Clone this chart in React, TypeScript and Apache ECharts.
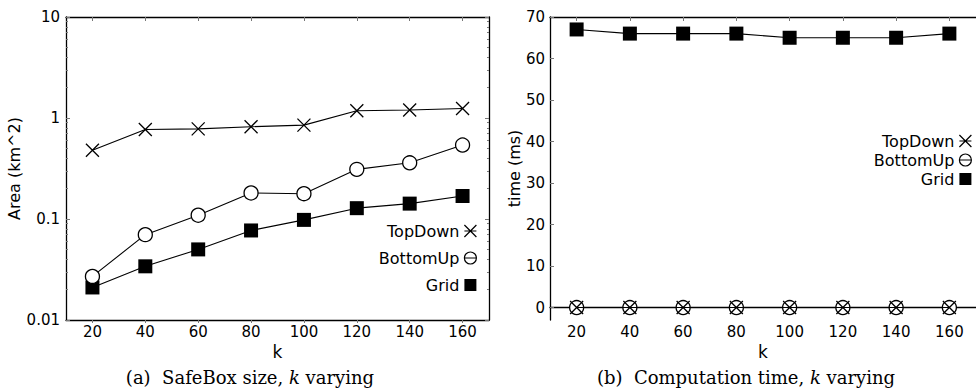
import React, { useEffect, useRef } from "react";
import * as echarts from "echarts";

const kValues = [20, 40, 60, 80, 100, 120, 140, 160];
const areaTopDown = [0.48, 0.77, 0.78, 0.82, 0.85, 1.18, 1.2, 1.24];
const areaBottomUp = [0.027, 0.07, 0.109, 0.181, 0.178, 0.31, 0.36, 0.54];
const areaGrid = [0.021, 0.034, 0.05, 0.077, 0.098, 0.128, 0.142, 0.169];
const timeTopDown = [0, 0, 0, 0, 0, 0, 0, 0];
const timeBottomUp = [0, 0, 0, 0, 0, 0, 0, 0];
const timeGrid = [67, 66, 66, 66, 65, 65, 65, 66];
const logMajorTicks = [0.01, 0.1, 1, 10];
const logMinorTicks = [
  0.02, 0.03, 0.04, 0.05, 0.06, 0.07, 0.08, 0.09,
  0.2, 0.3, 0.4, 0.5, 0.6, 0.7, 0.8, 0.9,
  2, 3, 4, 5, 6, 7, 8, 9,
];
const timeTicks = [0, 10, 20, 30, 40, 50, 60, 70];

const FONT = "DejaVu Sans";
const SERIF = "DejaVu Serif";

const pairs = (vals: number[]) => kValues.map((k, i) => [k, vals[i]]);

const crossPath = "path://M0,0L10,10M10,0L0,10";
const crossLegend = "path://M0,0L10,10M10,0L0,10M0,5L10,5";
const circleLegend = "path://M0,5A5,5 0 1,1 10,5A5,5 0 1,1 0,5ZM0,5L10,5";

export default function App() {
  const ref = useRef<HTMLDivElement>(null);
  useEffect(() => {
    if (!ref.current) return;
    const chart = echarts.init(ref.current, null, { renderer: "svg" });

    const axisLine = { show: true, lineStyle: { color: "#000", width: 1.3 } };
    const tickGrey = { color: "#777", width: 1 };
    const labelStyle = { color: "#000", fontSize: 15, fontFamily: FONT };

    const xBottom = (gridIndex: number) => ({
      type: "value",
      gridIndex,
      min: 10,
      max: 170,
      position: "bottom",
      axisLine,
      splitLine: { show: false },
      axisTick: { show: true, inside: false, length: 3, lineStyle: tickGrey, customValues: kValues },
      axisLabel: { ...labelStyle, margin: 4, customValues: kValues },
      name: "k",
      nameLocation: "middle",
      nameGap: 14,
      nameTextStyle: { color: "#000", fontSize: 17, fontFamily: FONT, verticalAlign: "top" },
    });
    const xTop = (gridIndex: number) => ({
      type: "value",
      gridIndex,
      min: 10,
      max: 170,
      position: "top",
      axisLine,
      splitLine: { show: false },
      axisTick: { show: true, inside: true, length: 4, lineStyle: tickGrey, customValues: kValues },
      axisLabel: { show: false },
    });
    const logAxis = (position: string, ticks: number[], len: number, extra: any = {}) => ({
      type: "log",
      gridIndex: 0,
      min: 0.01,
      max: 10,
      logBase: 10,
      position,
      axisLine,
      splitLine: { show: false },
      axisTick: { show: true, inside: true, length: len, lineStyle: tickGrey, customValues: ticks },
      axisLabel: { show: false },
      ...extra,
    });

    const legendBase = {
      orient: "vertical",
      align: "right",
      itemWidth: 12,
      itemHeight: 12,
      padding: 0,
      selectedMode: false,
      textStyle: { color: "#000", fontSize: 16, fontFamily: FONT },
      data: [
        { name: "TopDown", icon: crossLegend, itemStyle: { color: "transparent", borderColor: "#000", borderWidth: 1.2 } },
        { name: "BottomUp", icon: circleLegend, itemStyle: { color: "transparent", borderColor: "#000", borderWidth: 1.2 } },
        { name: "Grid", icon: "rect", itemStyle: { color: "#000", borderWidth: 0 } },
      ],
    };

    const mkSeries = (name: string, data: number[], x: number, y: number) => {
      const base: any = {
        name,
        type: "line",
        xAxisIndex: x,
        yAxisIndex: y,
        data: pairs(data),
        lineStyle: { color: "#000", width: 1.1 },
        symbolSize: 14,
        z: 3,
      };
      if (name === "TopDown") {
        base.symbol = crossPath;
        base.symbolSize = 13;
        base.itemStyle = { color: "#000", borderColor: "#000", borderWidth: 1.3 };
        base.z = 4;
      } else if (name === "BottomUp") {
        base.symbol = "circle";
        base.itemStyle = { color: "#fff", borderColor: "#000", borderWidth: 1.3 };
      } else {
        base.symbol = "rect";
        base.itemStyle = { color: "#000", borderColor: "#000", borderWidth: 0 };
      }
      return base;
    };

    const caption = (x: number, label: string) => ({
      type: "text",
      x,
      y: 377,
      style: {
        text: `{n|${label}}{i|k}{n| varying}`,
        align: "center",
        verticalAlign: "middle",
        rich: {
          n: { fontFamily: SERIF, fontSize: 18, fill: "#000" },
          i: { fontFamily: SERIF, fontSize: 18, fontStyle: "italic", fill: "#000" },
        },
      },
    });

    chart.setOption({
      animation: false,
      grid: [
        { left: 66, top: 17, right: 487, bottom: 70 },
        { left: 550, top: 17, right: -8, bottom: 70 },
      ],
      legend: [
        { ...legendBase, right: 499, top: 223, itemGap: 11 },
        { ...legendBase, right: 4, top: 133, itemGap: 3 },
      ],
      xAxis: [xBottom(0), xTop(0), xBottom(1), xTop(1)],
      yAxis: [
        logAxis("left", logMajorTicks, 4, {
          axisLabel: {
            ...labelStyle,
            margin: 6,
            customValues: logMajorTicks,
            formatter: (v: number) => String(v),
          },
          name: "Area (km^2)",
          nameLocation: "middle",
          nameRotate: 90,
          nameGap: 36,
          nameTextStyle: { color: "#000", fontSize: 16, fontFamily: FONT },
        }),
        logAxis("left", logMinorTicks, 2, { axisLine: { show: false } }),
        logAxis("right", logMajorTicks, 4),
        logAxis("right", logMinorTicks, 2, { axisLine: { show: false } }),
        {
          type: "value",
          gridIndex: 1,
          min: -3,
          max: 70,
          position: "left",
          axisLine,
          splitLine: { show: false },
          axisTick: { show: true, inside: true, length: 4, lineStyle: tickGrey, customValues: timeTicks },
          axisLabel: { ...labelStyle, margin: 5, customValues: timeTicks },
          name: "time (ms)",
          nameLocation: "middle",
          nameRotate: 90,
          nameGap: 26,
          nameTextStyle: { color: "#000", fontSize: 16, fontFamily: FONT },
        },
      ],
      series: [
        mkSeries("Grid", areaGrid, 0, 0),
        mkSeries("BottomUp", areaBottomUp, 0, 0),
        mkSeries("TopDown", areaTopDown, 0, 0),
        mkSeries("Grid", timeGrid, 2, 4),
        mkSeries("BottomUp", timeBottomUp, 2, 4),
        mkSeries("TopDown", timeTopDown, 2, 4),
      ],
      graphic: [
        caption(250, "(a)  SafeBox size, "),
        caption(746, "(b)  Computation time, "),
      ],
    });
    return () => chart.dispose();
  }, []);
  return (
    <div
      ref={ref}
      style={{ position: "fixed", left: 0, top: 0, width: 976, height: 390, background: "#fff" }}
    />
  );
}
